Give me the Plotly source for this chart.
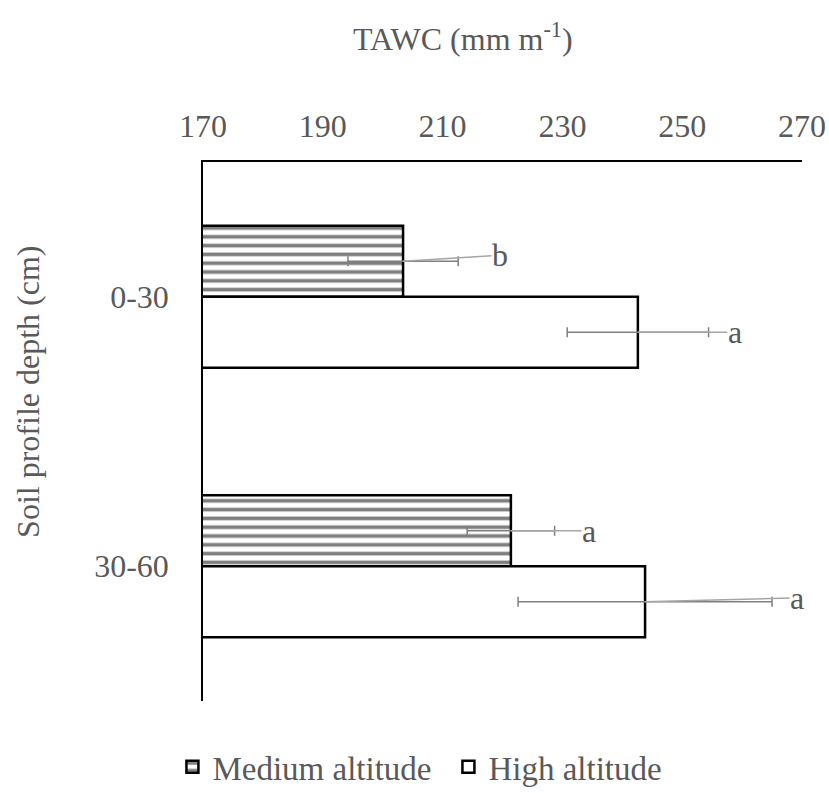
import plotly.graph_objects as go

# ---- data ----
depths = ["0-30", "30-60"]
medium_vals = [203.4, 221.4]
medium_err = [9.2, 7.3]
medium_letters = ["b", "a"]
high_vals = [242.6, 243.8]
high_err = [11.8, 21.2]
high_letters = ["a", "a"]
x_ticks = [170, 190, 210, 230, 250, 270]

FONT = "Liberation Serif"
TXT = "#595959"
FS = 32

ypos = list(range(len(depths)))
bargap = 0.473
half = (1 - bargap) / 4  # centre offset of each bar inside the group

fig = go.Figure()
fig.add_trace(go.Bar(
    name="Medium altitude", orientation="h", y=ypos, x=medium_vals,
    marker=dict(color="white", line=dict(color="black", width=2.5),
                pattern=dict(shape="-", fgcolor="black", bgcolor="white",
                             size=8.8, solidity=0.42)),
    error_x=dict(type="data", array=medium_err, color="#7f7f7f",
                 thickness=1.5, width=5),
))
fig.add_trace(go.Bar(
    name="High altitude", orientation="h", y=ypos, x=high_vals,
    marker=dict(color="white", line=dict(color="black", width=2.5)),
    error_x=dict(type="data", array=high_err, color="#7f7f7f",
                 thickness=1.5, width=5),
))

# significance letters with leader lines (label offsets in pixels = style)
med_off = [(97, -6), (78, 0)]
high_off = [(97, 0), (152, -4)]
for i in ypos:
    for vals, letters, offs, sgn in ((medium_vals, medium_letters, med_off, -1),
                                      (high_vals, high_letters, high_off, 1)):
        fig.add_annotation(
            x=vals[i], y=i + sgn * half, xref="x", yref="y",
            text=letters[i], showarrow=True, arrowhead=0, arrowwidth=1.5,
            arrowcolor="#a6a6a6", standoff=0, ax=offs[i][0], ay=offs[i][1],
            font=dict(family=FONT, size=FS, color=TXT), borderpad=0,
        )

# axis titles
fig.add_annotation(text="TAWC (mm m<sup>-1</sup>)", xref="paper", yref="paper",
                   x=0.434, y=1.272, showarrow=False,
                   font=dict(family=FONT, size=FS, color=TXT))
fig.add_annotation(text="Soil profile depth (cm)", xref="paper", yref="paper",
                   x=-0.326, y=0.573, showarrow=False, textangle=-90,
                   font=dict(family=FONT, size=FS, color=TXT))

fig.update_layout(
    width=829, height=793,
    margin=dict(l=203, r=27, t=162, b=92, autoexpand=False),
    paper_bgcolor="white", plot_bgcolor="white",
    barmode="group", bargap=bargap, bargroupgap=0,
    font=dict(family=FONT, size=FS, color=TXT),
    showlegend=True,
    legend=dict(orientation="h", xref="container", yref="container",
                x=0.208, xanchor="left", y=0.033, yanchor="middle",
                entrywidth=231,
                font=dict(family=FONT, size=33, color=TXT),
                traceorder="normal"),
    xaxis=dict(side="top", range=[170, 270], tickvals=x_ticks,
               showgrid=False, zeroline=False, showline=True,
               linecolor="black", linewidth=1.5, ticks="",
               ticklabelstandoff=10, automargin=False,
               tickfont=dict(family=FONT, size=FS, color=TXT)),
    yaxis=dict(range=[1.5, -0.5], tickvals=ypos, ticktext=depths,
               showgrid=False, zeroline=False, showline=True,
               linecolor="black", linewidth=1.5, ticks="",
               ticklabelstandoff=26, automargin=False,
               tickfont=dict(family=FONT, size=FS, color=TXT)),
)

fig.write_html("out.html")
